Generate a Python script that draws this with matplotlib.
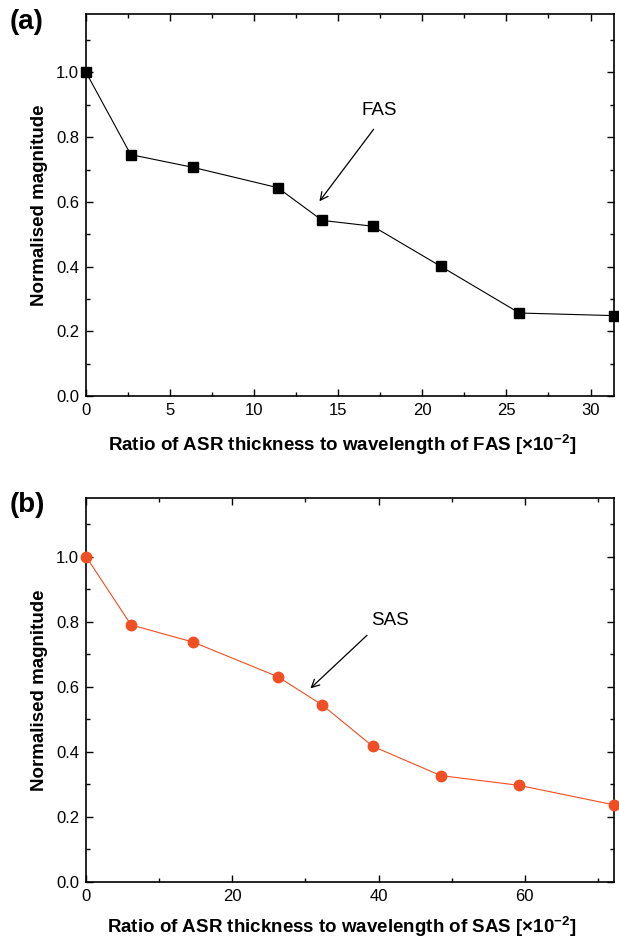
import matplotlib
matplotlib.use("Agg")
import matplotlib.pyplot as plt
from matplotlib.ticker import MultipleLocator

plt.rcParams["font.family"] = ["Liberation Sans", "DejaVu Sans"]
plt.rcParams["mathtext.fontset"] = "custom"
plt.rcParams["mathtext.rm"] = "Liberation Sans"
plt.rcParams["mathtext.bf"] = "Liberation Sans:bold"

# ── data ────────────────────────────────────────────────────────────────
fas_x = [0.0, 2.66, 6.34, 11.4, 14.04, 17.05, 21.1, 25.77, 31.4]
fas_y = [1.0, 0.746, 0.707, 0.644, 0.543, 0.525, 0.401, 0.257, 0.249]

sas_x = [0.0, 6.15, 14.65, 26.2, 32.3, 39.2, 48.5, 59.2, 72.2]
sas_y = [1.0, 0.790, 0.737, 0.631, 0.544, 0.417, 0.327, 0.297, 0.237]

SAS_COLOR = "#F04E23"


def style_axes(ax, xmax, xmajor, xminor):
    ax.set_xlim(0, xmax)
    ax.set_ylim(0, 1.18)
    ax.xaxis.set_major_locator(MultipleLocator(xmajor))
    ax.xaxis.set_minor_locator(MultipleLocator(xminor))
    ax.yaxis.set_major_locator(MultipleLocator(0.2))
    ax.yaxis.set_minor_locator(MultipleLocator(0.1))
    ax.yaxis.set_major_formatter(plt.FuncFormatter(lambda v, _: f"{v:.1f}"))
    ax.tick_params(which="both", direction="in", top=True, right=True,
                   width=1.0, pad=5, labelsize=12)
    ax.tick_params(which="major", length=5)
    ax.tick_params(which="minor", length=3)
    for sp in ax.spines.values():
        sp.set_linewidth(1.2)
    ax.set_ylabel("Normalised magnitude", fontsize=13.5, fontweight="bold",
                  labelpad=6)


fig = plt.figure(figsize=(6.19, 9.39), dpi=100)

# ── (a) FAS ────────────────────────────────────────────────────────────
ax_a = fig.add_axes([0.139, 0.578, 0.853, 0.407])
ax_a.plot(fas_x, fas_y, color="black", lw=0.8, marker="s", ms=6.5,
          mec="black", mfc="black", clip_on=False, zorder=3)
style_axes(ax_a, 31.4, 5, 2.5)
ax_a.set_xlabel(r"Ratio of ASR thickness to wavelength of FAS [×10$^{\mathbf{-2}}$]",
                fontsize=13.5, fontweight="bold", labelpad=10)
ax_a.xaxis.set_label_coords(0.485, -0.095)
ax_a.annotate("", xy=(13.78, 0.595), xytext=(17.2, 0.831),
              arrowprops=dict(arrowstyle="->", color="black", lw=0.9,
                              mutation_scale=14))
ax_a.text(17.46, 0.882, "FAS", fontsize=13.5, ha="center", va="center")
fig.text(0.015, 0.977, "(a)", fontsize=20, fontweight="bold", va="center")

# ── (b) SAS ────────────────────────────────────────────────────────────
ax_b = fig.add_axes([0.139, 0.0607, 0.853, 0.409])
ax_b.plot(sas_x, sas_y, color=SAS_COLOR, lw=0.8, marker="o", ms=7.5,
          mec=SAS_COLOR, mfc=SAS_COLOR, clip_on=False, zorder=3)
style_axes(ax_b, 72.2, 20, 10)
ax_b.set_xlabel(r"Ratio of ASR thickness to wavelength of SAS [×10$^{\mathbf{-2}}$]",
                fontsize=13.5, fontweight="bold", labelpad=5)
ax_b.xaxis.set_label_coords(0.485, -0.085)
ax_b.annotate("", xy=(30.4, 0.589), xytext=(38.7, 0.764),
              arrowprops=dict(arrowstyle="->", color="black", lw=0.9,
                              mutation_scale=14))
ax_b.text(41.6, 0.805, "SAS", fontsize=13.5, ha="center", va="center")
fig.text(0.015, 0.462, "(b)", fontsize=20, fontweight="bold", va="center")

fig.savefig("out.png", dpi=100)
